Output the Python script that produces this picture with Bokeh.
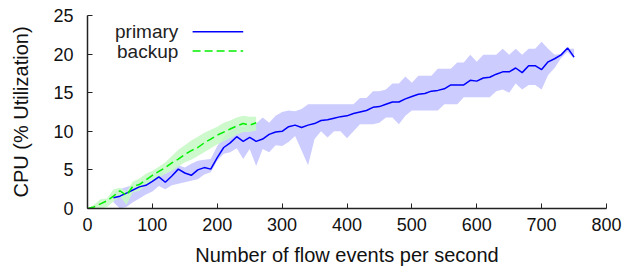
from bokeh.plotting import figure
from bokeh.models import Range1d, Label, FixedTicker
from bokeh.embed import file_html
from bokeh.resources import INLINE

# ---- data ----
primary_x = list(range(40, 760, 10))
primary_y = [1.4, 1.6, 2.0, 2.4, 2.8, 3.0, 3.5, 4.1, 3.4, 4.2,
             5.1, 4.6, 4.3, 5.0, 5.3, 5.1, 6.6, 7.9, 8.5, 9.3,
             8.7, 9.2, 8.7, 9.0, 9.6, 9.9, 10.0, 10.6, 10.8, 10.5,
             10.8, 11.0, 11.4, 11.5, 11.7, 11.9, 12.0, 12.3, 12.5, 12.7,
             13.1, 13.2, 13.5, 13.8, 13.8, 14.2, 14.5, 14.8, 14.9, 15.2,
             15.3, 15.5, 16.0, 16.0, 16.0, 16.6, 16.5, 16.9, 17.0, 17.4,
             17.7, 17.7, 18.2, 17.6, 18.5, 18.5, 18.0, 19.0, 19.4, 19.9,
             20.8, 19.6]
primary_hi = [2.0, 2.5, 2.8, 3.0, 3.4, 3.8, 4.3, 4.9, 4.5, 5.0,
              5.6, 5.3, 5.8, 6.2, 6.3, 6.4, 8.1, 9.2, 10.0, 10.8,
              10.5, 10.9, 11.0, 11.8, 11.1, 12.0, 12.5, 12.7, 12.6, 12.9,
              13.5, 13.5, 13.5, 13.5, 13.5, 13.5, 13.5, 13.5, 14.3, 14.3,
              15.2, 15.2, 15.4, 16.2, 16.2, 17.1, 16.3, 17.2, 17.2, 17.2,
              18.1, 18.1, 18.1, 18.9, 18.9, 19.9, 19.0, 19.9, 19.9, 19.9,
              20.7, 19.9, 20.7, 19.9, 20.7, 20.7, 21.6, 20.7, 19.9, 20.0,
              20.7, 20.7]
primary_lo = [0.8, 0.0, 0.2, 0.8, 1.3, 1.8, 2.2, 2.9, 2.5, 3.0,
              3.2, 3.4, 3.6, 3.8, 4.4, 4.7, 6.2, 7.1, 7.3, 7.8,
              6.4, 7.7, 5.5, 7.7, 7.3, 8.2, 8.1, 8.6, 9.4, 7.5,
              5.6, 9.0, 10.0, 9.2, 10.0, 10.0, 9.1, 10.0, 10.9, 10.9,
              10.9, 11.1, 11.8, 11.8, 10.9, 12.0, 12.7, 12.7, 12.7, 12.7,
              12.7, 13.5, 13.5, 13.5, 14.4, 14.4, 14.4, 14.4, 14.4, 15.2,
              15.4, 15.0, 16.2, 15.4, 16.0, 16.0, 15.4, 17.3, 18.2, 19.5,
              20.3, 19.4]

backup_x = list(range(0, 270, 10))
backup_y = [0.0, 0.2, 0.6, 1.0, 1.6, 2.3, 1.7, 2.9, 3.1, 3.7,
            4.3, 4.8, 5.3, 5.9, 6.4, 7.0, 7.5, 7.9, 8.5, 9.0,
            9.5, 9.9, 10.3, 10.7, 11.0, 10.8, 11.1]
backup_hi = [0.0, 0.5, 1.2, 1.3, 2.5, 2.7, 2.2, 3.5, 3.9, 4.5,
             4.9, 5.4, 6.0, 6.8, 7.6, 8.2, 8.8, 9.3, 9.8, 10.2,
             10.6, 11.1, 11.4, 11.8, 12.0, 11.9, 11.9]
backup_lo = [0.0, 0.0, 0.0, 0.2, 0.9, 1.6, 0.5, 2.1, 2.3, 3.0,
             3.5, 4.0, 4.5, 4.9, 5.4, 6.0, 6.3, 6.8, 7.3, 7.8,
             8.3, 8.7, 9.1, 9.6, 9.9, 9.9, 10.1]

x_ticks = [0, 100, 200, 300, 400, 500, 600, 700, 800]
y_ticks = [0, 5, 10, 15, 20, 25]

FONT = "Liberation Sans"
BLUE = "#0000ff"
GREEN = "#00f000"
DASH = "8 4"

W, H = 624, 268
p = figure(width=W, height=H, output_backend="svg", toolbar_location=None,
           x_range=Range1d(0, 800), y_range=Range1d(0, 25),
           min_border_left=87, min_border_right=18, min_border_top=15,
           min_border_bottom=58)
p.outline_line_color = None
p.grid.visible = False
p.background_fill_color = "white"

# bands
p.varea(x=primary_x, y1=primary_lo, y2=primary_hi, fill_color="#ccccff", fill_alpha=1.0)
p.varea(x=backup_x, y1=backup_lo, y2=backup_hi, fill_color="#c8f8c8", fill_alpha=0.9)

# lines
p.line(primary_x, primary_y, line_color=BLUE, line_width=1.5)
p.line(backup_x, backup_y, line_color=GREEN, line_width=1.5, line_dash=DASH)

# legend (text right-aligned, sample line to the right)
p.add_layout(Label(x=140, y=22.9, text="primary", text_align="right",
                   text_baseline="middle", text_font=FONT,
                   text_font_size="19px", text_color="#222222"))
p.add_layout(Label(x=140, y=20.4, text="backup", text_align="right",
                   text_baseline="middle", text_font=FONT,
                   text_font_size="19px", text_color="#222222"))
p.segment(x0=[162], y0=[22.9], x1=[240], y1=[22.9], line_color=BLUE, line_width=1.5)
p.segment(x0=[162], y0=[20.4], x1=[240], y1=[20.4], line_color=GREEN, line_width=1.5,
          line_dash=DASH)

# axes
for ax in (p.xaxis[0], p.yaxis[0]):
    ax.axis_line_color = "#222222"
    ax.axis_line_width = 1.5
    ax.major_tick_line_color = "#222222"
    ax.major_tick_line_width = 1
    ax.major_tick_in = 5
    ax.major_tick_out = 0
    ax.minor_tick_line_color = None
    ax.major_label_text_font = FONT
    ax.major_label_text_font_size = "18px"
    ax.major_label_text_color = "#111111"
    ax.axis_label_text_font = FONT
    ax.axis_label_text_font_size = "20px"
    ax.axis_label_text_font_style = "normal"
    ax.axis_label_text_color = "#111111"

p.xaxis.ticker = FixedTicker(ticks=x_ticks)
p.yaxis.ticker = FixedTicker(ticks=y_ticks)
p.xaxis.axis_label = "Number of flow events per second"
p.yaxis.axis_label = "CPU (% Utilization)"
p.xaxis.major_label_standoff = 9
p.yaxis.major_label_standoff = 14
p.xaxis.axis_label_standoff = 10
p.yaxis.axis_label_standoff = 18

open("out.html", "w").write(file_html(p, INLINE))
